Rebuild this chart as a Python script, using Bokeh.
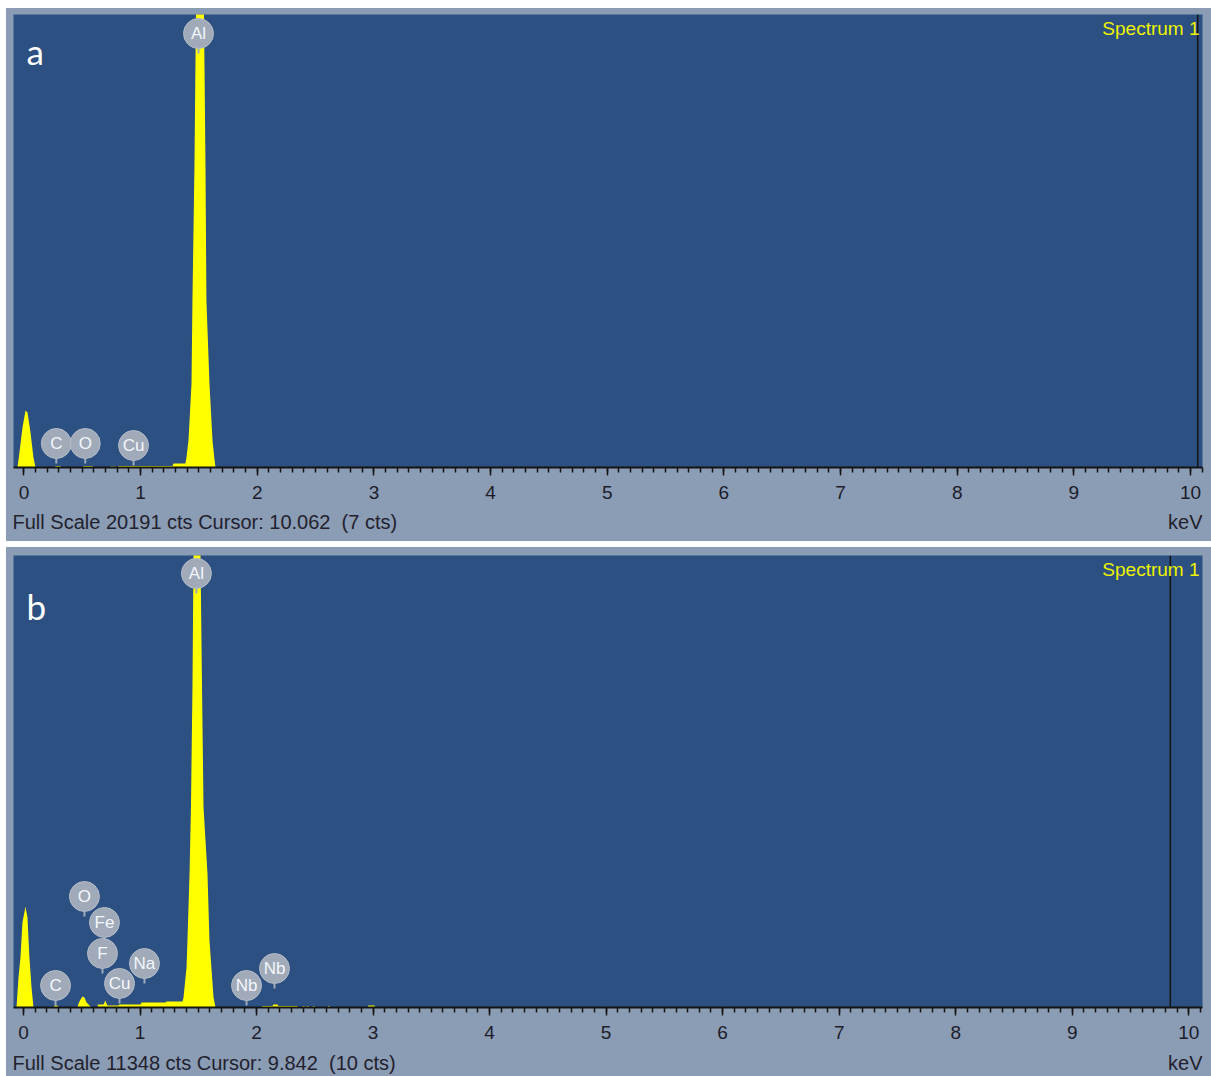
from bokeh.plotting import figure
from bokeh.models import Span, Label, Range1d, SingleIntervalTicker, ColumnDataSource
from bokeh.layouts import column
from bokeh.core.properties import value
from bokeh.embed import file_html
from bokeh.resources import INLINE

# ---------------- Spectrum a ----------------
energy_a = [-0.20, -0.056, -0.039, -0.013, 0.013, 0.030, 0.056, 0.081, 0.099,
            0.261, 0.270, 0.313, 0.321, 0.501, 0.510, 0.587, 0.596,
            0.733, 0.742, 0.784, 0.793, 0.801, 0.810, 1.273, 1.282, 1.384,
            1.393, 1.410, 1.436, 1.444, 1.461, 1.474, 1.509, 1.543, 1.556,
            1.564, 1.590, 1.616, 1.633, 1.642, 10.30]
counts_a = [0, 0, 670, 1780, 2540, 2450, 1560, 450, 0,
            0, 70, 70, 0, 0, 70, 70, 0,
            0, 45, 45, 0, 0, 67, 67, 178, 178,
            446, 1203, 3744, 7443, 13371, 20191, 31000, 20191, 13371,
            7443, 3744, 1203, 357, 0, 0]
full_scale_a = 20191
cursor_a = 10.062
cursor_cts_a = 7
elements_a = ["C", "O", "Cu", "Al"]
element_kev_a = [0.277, 0.525, 0.939, 1.496]
element_tag_cts_a = [1070, 1070, 980, 19343]

# ---------------- Spectrum b ----------------
energy_b = [-0.20, -0.060, -0.043, -0.026, -0.009, 0.017, 0.034, 0.051, 0.069, 0.086,
            0.257, 0.266, 0.292, 0.300,
            0.463, 0.472, 0.489, 0.506, 0.523, 0.541, 0.558, 0.575, 0.584,
            0.635, 0.639, 0.687, 0.695, 0.704, 0.712, 0.721, 0.815, 0.824,
            1.004, 1.013, 1.219, 1.227, 1.365, 1.373, 1.399, 1.407, 1.425,
            1.437, 1.450, 1.459, 1.489, 1.519, 1.532, 1.545, 1.562, 1.579,
            1.596, 1.631, 1.648,
            2.042, 2.051, 2.137, 2.145, 2.180, 2.188, 2.351, 2.360,
            2.394, 2.398, 2.411, 2.416, 2.429, 2.433, 2.446, 2.450,
            2.480, 2.484, 2.497, 2.502, 2.609, 2.613, 2.626, 2.630,
            2.952, 2.961, 3.012, 3.021, 10.30]
counts_b = [0, 0, 753, 1256, 2134, 2536, 2260, 1256, 502, 0,
            0, 50, 50, 0,
            0, 100, 200, 276, 251, 126, 75, 25, 0,
            0, 75, 75, 126, 176, 100, 50, 50, 75,
            75, 126, 126, 150, 150, 251, 1004, 1682, 3365,
            5022, 8035, 11348, 18000, 11348, 8035, 5022, 4193, 3365,
            1682, 251, 0,
            0, 38, 38, 75, 75, 38, 38, 0,
            0, 38, 38, 0, 0, 38, 38, 0,
            0, 38, 38, 0, 0, 38, 38, 0,
            0, 50, 50, 0, 0]
full_scale_b = 11348
cursor_b = 9.842
cursor_cts_b = 10
elements_b = ["C", "O", "Fe", "F", "Cu", "Na", "Al", "Nb", "Nb"]
element_kev_b = [0.275, 0.523, 0.695, 0.678, 0.824, 1.038, 1.484, 1.914, 2.154]
element_tag_cts_b = [552, 2787, 2134, 1356, 603, 1105, 10898, 552, 979]

FRAME_BLUE = "#2b5081"
PANEL_GREY = "#8b9cb5"
YELLOW = "#ffff00"
TAG_FILL = "#a0aab9"
UI_FONT = "Liberation Sans"
PANEL_W = 1205


def spectrum_panel(tag, energy, counts, full_scale, cursor, cursor_cts,
                   elements, element_kev, element_cts,
                   x_start, x_end, frame_h, border_top, tag_drop, strip_h, top_margin):
    frame_w = 1189
    border_bottom = 44
    kev_px = (x_end - x_start) / frame_w
    cts_px = full_scale / frame_h

    p = figure(width=PANEL_W, height=frame_h + border_top + border_bottom,
               output_backend="svg", toolbar_location=None,
               x_range=Range1d(x_start, x_end), y_range=Range1d(0, full_scale),
               y_axis_location=None, min_border_left=7, min_border_right=9,
               min_border_top=border_top, min_border_bottom=border_bottom,
               background_fill_color=FRAME_BLUE, border_fill_color=PANEL_GREY,
               outline_line_color=None, margin=(top_margin, 0, 0, 6),
               styles={"background-color": PANEL_GREY})
    p.grid.visible = False

    ax = p.xaxis[0]
    ax.ticker = SingleIntervalTicker(interval=1, num_minor_ticks=10)
    ax.axis_line_color = "#141414"
    ax.axis_line_width = 2
    ax.major_tick_line_color = "#141414"
    ax.major_tick_line_width = 1.5
    ax.major_tick_in = 0
    ax.major_tick_out = 8
    ax.minor_tick_line_color = "#141414"
    ax.minor_tick_line_width = 1.5
    ax.minor_tick_in = 0
    ax.minor_tick_out = 5
    ax.major_label_text_font = UI_FONT
    ax.major_label_text_font_size = "19px"
    ax.major_label_text_color = "#1c1c2a"
    ax.major_label_standoff = 10

    src = ColumnDataSource(dict(energy=energy, counts=counts))
    p.varea(x="energy", y1=0, y2="counts", source=src, fill_color=YELLOW)

    # cursor line
    p.add_layout(Span(location=cursor, dimension="height", line_color="#151515", line_width=1.5))

    # element markers: stem + round tag + symbol
    stem_len = 20 * cts_px
    tags = ColumnDataSource(dict(x=element_kev, y=element_cts,
                                 y0=[c - stem_len for c in element_cts], name=elements))
    p.segment(x0="x", y0="y", x1="x", y1="y0", source=tags, line_color=TAG_FILL, line_width=2)
    p.scatter(x="x", y="y", source=tags, marker="circle", size=30,
              fill_color=TAG_FILL, line_color="#b3bbc7", line_width=1)
    p.text(x="x", y="y", text="name", source=tags, text_align="center",
           text_baseline="middle", text_color="#f4f7fc", text_font=value(UI_FONT),
           text_font_size="17px")

    # panel letter
    p.add_layout(Label(x=x_start + 13 * kev_px, y=full_scale - tag_drop * cts_px, text=tag,
                       text_font="Lato", text_font_size="35px", text_color="white",
                       text_baseline="alphabetic", text_align="left"))
    # spectrum name
    p.add_layout(Label(x=x_end - 3 * kev_px, y=full_scale - 14 * cts_px, text="Spectrum 1",
                       text_font=UI_FONT, text_font_size="19px", text_color="#eef200",
                       text_baseline="middle", text_align="right"))

    # status strip under the axis
    strip_end = PANEL_W + 4
    s = figure(width=PANEL_W, height=strip_h, output_backend="svg", toolbar_location=None,
               x_range=Range1d(0, strip_end), y_range=Range1d(0, strip_h),
               x_axis_location=None, y_axis_location=None, min_border=0,
               min_border_left=0, min_border_right=0, min_border_top=0, min_border_bottom=0,
               background_fill_color=PANEL_GREY, border_fill_color=PANEL_GREY,
               outline_line_color=None, margin=(0, 0, 0, 6),
               styles={"background-color": PANEL_GREY})
    s.grid.visible = False
    status = f"Full Scale {full_scale} cts Cursor: {cursor:.3f} \u00a0({cursor_cts} cts)"
    text_y = strip_h - 10 if strip_h > 27 else strip_h - 11
    s.text(x=[-1], y=[text_y], text=[status], text_align="left", text_baseline="middle",
           text_font=value(UI_FONT), text_font_size="20px", text_color="#22222e")
    s.text(x=[strip_end], y=[text_y], text=["keV"], text_align="right",
           text_baseline="middle", text_font=value(UI_FONT), text_font_size="20px",
           text_color="#22222e")
    return [p, s]


panel_a = spectrum_panel("a", energy_a, counts_a, full_scale_a, cursor_a, cursor_cts_a,
                         elements_a, element_kev_a, element_tag_cts_a,
                         -0.090, 10.103, 453, 6, 36, 30, 8)
panel_b = spectrum_panel("b", energy_b, counts_b, full_scale_b, cursor_b, cursor_cts_b,
                         elements_b, element_kev_b, element_tag_cts_b,
                         -0.0858, 10.118, 452, 8, 50, 25, 6)

layout = column(*panel_a, *panel_b, spacing=0)
open("out.html", "w").write(file_html(layout, INLINE))
